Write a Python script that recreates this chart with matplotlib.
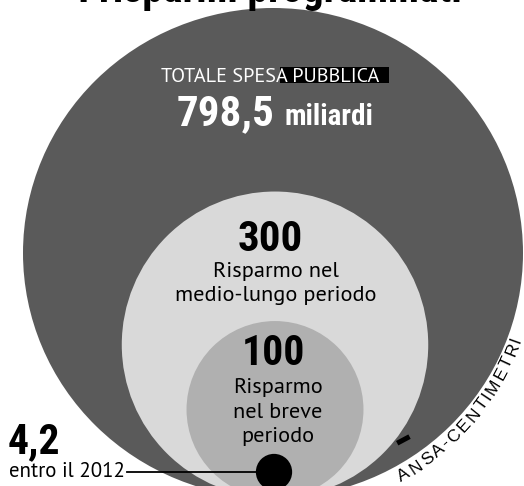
import numpy as np
import matplotlib
matplotlib.use("Agg")
import matplotlib.pyplot as plt
from matplotlib.patches import Ellipse, Circle, Rectangle
from matplotlib.font_manager import FontProperties
from matplotlib.textpath import text_to_path

# ---- data ----
values = [798.5, 300, 100, 4.2]
value_labels = ["798,5", "300", "100", "4,2"]
total_caption = "TOTALE SPESA PUBBLICA"
unit_label = "miliardi"
mid_caption = ["Risparmo nel", "medio-lungo periodo"]
short_caption = ["Risparmo", "nel breve", "periodo"]
dot_caption = "entro il 2012"
title = "I risparmi programmati"
credit = "ANSA-CENTIMETRI"

colors = ["#5a5a5a", "#d9d9d9", "#b0b0b0", "#000000"]

W, H = 524, 486
fig = plt.figure(figsize=(W / 100, H / 100), dpi=100)
ax = fig.add_axes([0, 0, 1, 1])
ax.set_xlim(0, W)
ax.set_ylim(H, 0)
ax.axis("off")

# radius proportional to sqrt(value) (area scale)
R_big = 250.0
k = R_big / np.sqrt(values[0])
radii = [k * np.sqrt(v) for v in values]

cond = ["Roboto Condensed", "Barlow Condensed", "DejaVu Sans"]
body = ["PT Sans", "Open Sans", "DejaVu Sans"]

big_c = (273, 253)
ax.add_patch(Ellipse(big_c, 2 * radii[0], 2 * radii[0] * 0.98,
                     facecolor=colors[0], edgecolor="none", zorder=1))
bottom = 498
ax.add_patch(Circle((275, bottom - radii[1]), radii[1],
                    facecolor=colors[1], edgecolor="none", zorder=2))
ax.add_patch(Circle((275, bottom - radii[2]), radii[2],
                    facecolor=colors[2], edgecolor="none", zorder=3))
dot_c = (274, 472)
ax.add_patch(Circle(dot_c, radii[3], facecolor=colors[3],
                    edgecolor="none", zorder=5))
ax.plot([127, dot_c[0]], [dot_c[1], dot_c[1]], color="black", lw=1.3, zorder=4)

# title (cut at top)
ax.text(270, 2, title, fontsize=30, fontweight="heavy", family=cond,
        ha="center", va="baseline", color="black", zorder=6)

# totale
ax.add_patch(Rectangle((280, 67), 109, 16, facecolor="black",
                       edgecolor="none", zorder=5))
ax.text(270, 82, total_caption, fontsize=14.5, family=body, color="white",
        ha="center", va="baseline", zorder=6)
ax.text(177, 125, value_labels[0], fontsize=31, fontweight="heavy", family=cond,
        color="white", ha="left", va="baseline", zorder=6)
ax.text(285, 125, unit_label, fontsize=21, fontweight="heavy", family=cond,
        color="white", ha="left", va="baseline", zorder=6)

# 300
ax.text(270, 251, value_labels[1], fontsize=31, fontweight="heavy", family=cond,
        color="black", ha="center", va="baseline", zorder=6)
for i, line in enumerate(mid_caption):
    ax.text(276, 277 + 23.5 * i, line, fontsize=16, family=body,
            color="black", ha="center", va="baseline", zorder=6)

# 100
ax.text(273, 365, value_labels[2], fontsize=30, fontweight="heavy", family=cond,
        color="black", ha="center", va="baseline", zorder=6)
for i, line in enumerate(short_caption):
    ax.text(278, 393 + 24.5 * i, line, fontsize=16, family=body,
            color="black", ha="center", va="baseline", zorder=6)

# 4,2
ax.text(8, 453, value_labels[3], fontsize=30, fontweight="heavy", family=cond,
        color="black", ha="left", va="baseline", zorder=6)
ax.text(9, 477, dot_caption, fontsize=15, family=body,
        color="black", ha="left", va="baseline", zorder=6)

# credit along the arc
fp = FontProperties(family=["Liberation Sans", "DejaVu Sans"], size=12.5)
def adv(s):
    w, h, d = text_to_path.get_text_width_height_descent(s, fp, ismath=False)
    return w * 100 / 72

rho = 258
theta_start, theta_end = np.deg2rad(61), np.deg2rad(19)
arc_len = rho * (theta_start - theta_end)
widths = [adv(ch) for ch in credit]
scale = arc_len / sum(widths)
cum = 0.0
for ch, w in zip(credit, widths):
    pos = (cum + w / 2) * scale
    cum += w
    th = theta_start - pos / rho
    x = big_c[0] + rho * np.cos(th)
    y = big_c[1] + rho * np.sin(th)
    ax.text(x, y, ch, fontproperties=fp, rotation=90 - np.rad2deg(th),
            rotation_mode="anchor", ha="center", va="center",
            color="black", zorder=6)

ax.add_patch(Rectangle((396, 441), 14, 5, angle=-28, facecolor="black",
                       edgecolor="none", zorder=6))

fig.savefig("out.png", dpi=100)
